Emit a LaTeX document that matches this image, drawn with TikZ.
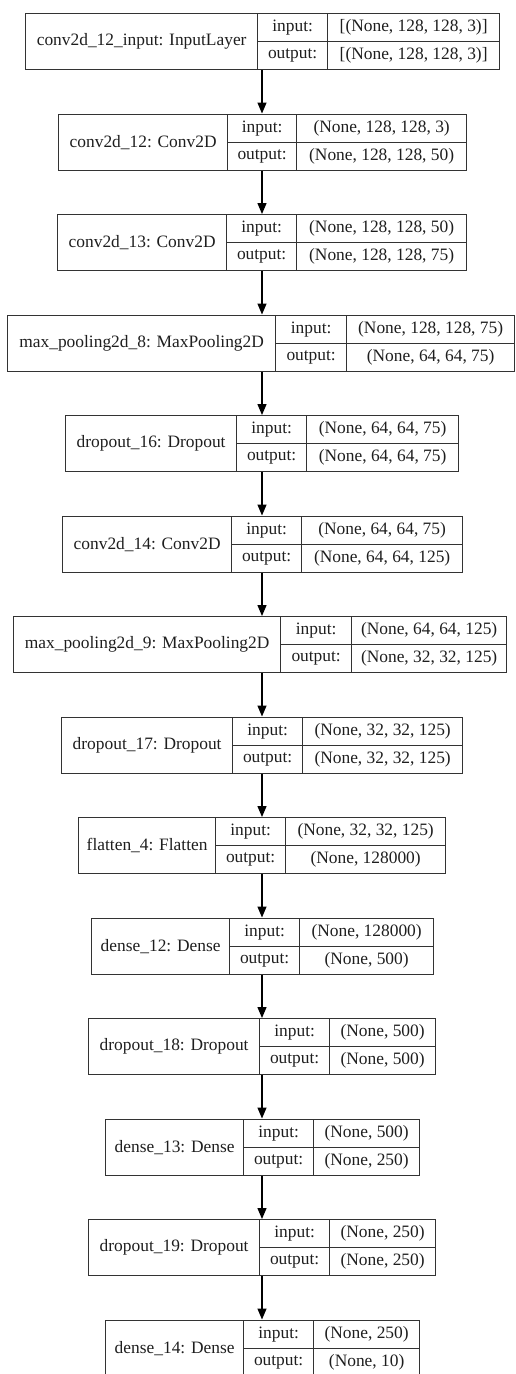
\documentclass[tikz,border=0pt]{standalone}
\usepackage{fontspec}
\setmainfont{Liberation Serif}
\usetikzlibrary{arrows.meta}

\definecolor{boxline}{HTML}{333333}
\definecolor{inkgray}{HTML}{1E1E1E}

\tikzset{
    cell/.style = {draw=boxline, line width=1.3pt, inner sep=1pt, anchor=north west,
        text=inkgray, font=\fontsize{17.4}{20}\selectfont},
    arr/.style = {line width=1.3pt, -{Triangle[length=11pt, width=9pt]}}
}

% #1 id, #2 top, #3 left, #4 first divider, #5 second divider, #6 right,
% #7 layer name, #8 input shape, #9 output shape
\newcommand{\layer}[9]{%
    \node[cell, minimum width={#6-#3}, minimum height=56] (#1) at (#3,#2) {};
    \node[cell, minimum width={#4-#3}, minimum height=56] (#1-name) at (#3,#2) {#7};
    \node[cell, minimum width={#5-#4}, minimum height=28] (#1-ii) at (#4,#2) {input:};
    \node[cell, minimum width={#5-#4}, minimum height=28] (#1-oi) at (#4,{#2+28}) {output:};
    \node[cell, minimum width={#6-#5}, minimum height=28] (#1-iv) at (#5,#2) {#8};
    \node[cell, minimum width={#6-#5}, minimum height=28] (#1-ov) at (#5,{#2+28}) {#9};
}

\begin{document}
\begin{tikzpicture}[x=1pt, y=-1pt, line join = round]
    \useasboundingbox (0,0) rectangle (515,1374);
    \coordinate (axis) at (262,0);

    \layer{L1}{13}{25}{257}{327}{499}{conv2d\_12\_input: InputLayer}{[(None, 128, 128, 3)]}{[(None, 128, 128, 3)]}
    \layer{L2}{113.5}{58}{227}{296}{466}{conv2d\_12: Conv2D}{(None, 128, 128, 3)}{(None, 128, 128, 50)}
    \layer{L3}{214}{57}{226}{296}{466}{conv2d\_13: Conv2D}{(None, 128, 128, 50)}{(None, 128, 128, 75)}
    \layer{L4}{314.5}{7}{275}{346}{514}{max\_pooling2d\_8: MaxPooling2D}{(None, 128, 128, 75)}{(None, 64, 64, 75)}
    \layer{L5}{415}{65}{236}{306}{458}{dropout\_16: Dropout}{(None, 64, 64, 75)}{(None, 64, 64, 75)}
    \layer{L6}{515.5}{62}{231}{301}{462}{conv2d\_14: Conv2D}{(None, 64, 64, 75)}{(None, 64, 64, 125)}
    \layer{L7}{616}{13}{280}{351}{506}{max\_pooling2d\_9: MaxPooling2D}{(None, 64, 64, 125)}{(None, 32, 32, 125)}
    \layer{L8}{716.5}{61}{232}{302}{462}{dropout\_17: Dropout}{(None, 32, 32, 125)}{(None, 32, 32, 125)}
    \layer{L9}{817}{78}{215}{285}{445}{flatten\_4: Flatten}{(None, 32, 32, 125)}{(None, 128000)}
    \layer{L10}{917.5}{91}{229}{299}{433}{dense\_12: Dense}{(None, 128000)}{(None, 500)}
    \layer{L11}{1018}{88}{259}{329}{435}{dropout\_18: Dropout}{(None, 500)}{(None, 500)}
    \layer{L12}{1118.5}{105}{243}{313}{419}{dense\_13: Dense}{(None, 500)}{(None, 250)}
    \layer{L13}{1219}{88}{259}{329}{435}{dropout\_19: Dropout}{(None, 250)}{(None, 250)}
    \layer{L14}{1319.5}{105}{243}{313}{419}{dense\_14: Dense}{(None, 250)}{(None, 10)}

    \foreach \a/\b in {L1/L2, L2/L3, L3/L4, L4/L5, L5/L6, L6/L7, L7/L8,
                       L8/L9, L9/L10, L10/L11, L11/L12, L12/L13, L13/L14}
        \draw[arr] (\a.south -| axis) -- (\b.north -| axis);
\end{tikzpicture}
\end{document}
